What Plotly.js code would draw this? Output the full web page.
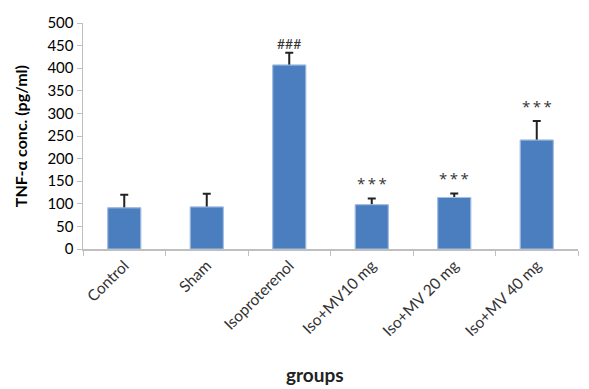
<!DOCTYPE html>
<html>
<head>
<meta charset="utf-8">
<script src="https://cdn.plot.ly/plotly-3.0.1.min.js"></script>
<style>html,body{margin:0;padding:0;background:#fff;}#chart{width:589px;height:389px;}</style>
</head>
<body>
<div id="chart"></div>
<script>
const categories = ["Control", "Sham", "Isoproterenol", "Iso+MV10 mg", "Iso+MV 20 mg", "Iso+MV 40 mg"];
const values = [91, 93, 407, 98, 114, 241];
const errors = [29, 29, 27, 14, 9, 42];
const marks = ["", "", "###", "*\u2009*\u2009*", "*\u2009*\u2009*", "*\u2009*\u2009*"];
const yTicks = [0, 50, 100, 150, 200, 250, 300, 350, 400, 450, 500];
const xTitle = "groups";
const yTitle = "TNF-α conc. (pg/ml)";

const FONT = "Lato, 'Open Sans', sans-serif";

const annotations = categories.map((c, i) => ({
  x: c, y: values[i] + errors[i], text: marks[i], showarrow: false,
  yanchor: "bottom", yshift: marks[i] === "###" ? -1 : 3,
  font: {family: marks[i] === "###" ? FONT : "'Open Sans', sans-serif", size: marks[i] === "###" ? 14 : 15, color: "#333"}
})).filter(a => a.text);

annotations.push({
  xref: "paper", yref: "paper", x: -0.127, y: 0.5, xanchor: "center", yanchor: "middle",
  text: "<b>" + yTitle + "</b>", textangle: -90, showarrow: false,
  font: {family: FONT, size: 16, color: "#000"}
});
annotations.push({
  xref: "paper", yref: "paper", x: 0.469, y: -0.555, xanchor: "center", yanchor: "middle",
  text: "<b>" + xTitle + "</b>", showarrow: false,
  font: {family: FONT, size: 19, color: "#222"}
});

const barStyle = {color: "#4a7ebf", line: {color: "#a9c1e3", width: 1}};

const errTrace = {
  type: "bar", x: categories, y: values,
  marker: barStyle,
  error_y: {type: "data", array: errors, symmetric: true,
            color: "#222", thickness: 2, width: 4, visible: true},
  hoverinfo: "none"
};
const coverTrace = {
  type: "bar", x: categories, y: values, yaxis: "y2",
  marker: barStyle, hoverinfo: "none"
};

const layout = {
  width: 589, height: 389,
  margin: {l: 83, r: 11, t: 23, b: 140},
  paper_bgcolor: "#fff", plot_bgcolor: "#fff",
  bargap: 0.6,
  showlegend: false,
  font: {family: FONT, size: 14, color: "#000"},
  xaxis: {
    type: "category", tickson: "boundaries", ticks: "outside", ticklen: 5, tickcolor: "#bfbfbf",
    showline: true, linecolor: "#bfbfbf", linewidth: 1.5, showgrid: false,
    tickangle: -45, tickfont: {size: 15.5, color: "#333"}
  },
  yaxis: {
    range: [0, 500], tickvals: yTicks, ticks: "outside", ticklen: 5, tickcolor: "#bfbfbf",
    showline: true, linecolor: "#bfbfbf", linewidth: 1.5, showgrid: false, zeroline: false,
    tickfont: {size: 15, color: "#000"}
  },
  yaxis2: {range: [0, 500], overlaying: "y", visible: false, showgrid: false, zeroline: false},
  annotations: annotations
};

Plotly.newPlot("chart", [errTrace, coverTrace], layout, {staticPlot: true, displayModeBar: false});
</script>
</body>
</html>
